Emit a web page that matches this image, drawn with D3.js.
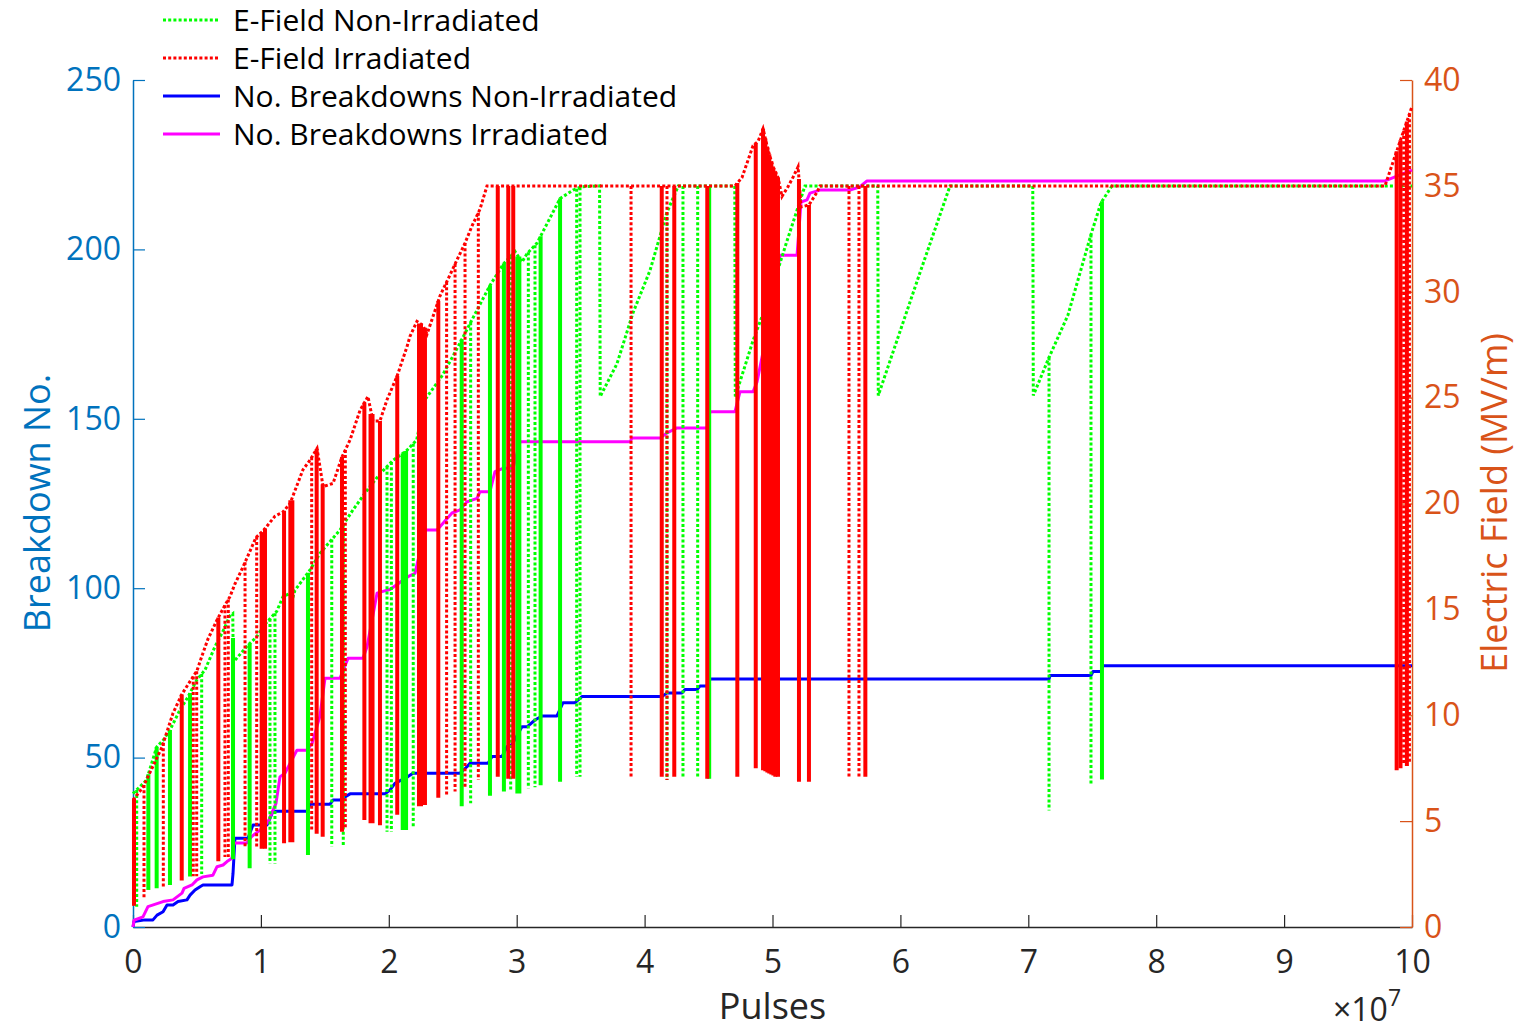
<!DOCTYPE html>
<html><head><meta charset="utf-8">
<script src="https://cdn.jsdelivr.net/npm/d3@7"></script>
<style>
body{margin:0;background:#fff}
svg{display:block}
text{font-family:'Open Sans',sans-serif}
</style>
</head><body>
<svg id="chart" width="1537" height="1030"></svg>
<script>
// ---------- data (pulses in units of 1e7) ----------
const xTicks = [0,1,2,3,4,5,6,7,8,9,10];
const leftTicks = [0,50,100,150,200,250];
const rightTicks = [0,5,10,15,20,25,30,35,40];
const legendLabels = ["E-Field Non-Irradiated","E-Field Irradiated","No. Breakdowns Non-Irradiated","No. Breakdowns Irradiated"];

// E-field envelope [pulses, MV/m]
const eFieldNonIrr = [[0,6.3],[0.106,6.94],[0.185,8.5],[0.237,8.83],[0.289,9.3],[0.367,10.25],[0.433,10.9],[0.498,11.66],[0.563,12.14],[0.641,13.24],[0.706,14.0],[0.758,14.7],[0.780,14.8],[0.784,12.5],[0.888,13.24],[0.966,13.7],[1.032,14.3],[1.123,14.9],[1.173,15.6],[1.228,15.75],[1.243,15.4],[1.266,15.9],[1.384,16.86],[1.462,17.65],[1.618,18.75],[1.720,19.7],[1.827,20.6],[1.931,21.4],[2.035,22.05],[2.140,22.5],[2.218,23.0],[2.283,24.9],[2.424,26.1],[2.541,27.4],[2.635,28.5],[2.791,30.3],[2.895,31.3],[2.987,31.9],[3.041,31.4],[3.081,31.8],[3.159,32.3],[3.339,34.4],[3.440,34.8],[3.508,34.96],[3.648,35.0],[3.653,25.05],[3.784,26.6],[3.909,29.0],[4.042,31.0],[4.172,33.7],[4.263,35.0],[4.705,35.0],[4.709,25.05],[4.848,27.7],[4.978,29.8],[5.108,32.3],[5.254,35.0],[5.823,35.0],[5.827,25.1],[6.153,30.9],[6.388,35.0],[7.035,35.0],[7.039,25.1],[7.162,26.9],[7.310,28.9],[7.490,32.7],[7.568,34.2],[7.654,35.0],[10,35.0]];
const eFieldIrr = [[0,6.0],[0.078,6.6],[0.133,7.3],[0.227,8.5],[0.313,10.1],[0.383,11.0],[0.446,11.6],[0.500,12.1],[0.539,12.8],[0.586,13.6],[0.657,14.5],[0.719,15.2],[0.758,15.6],[0.797,16.2],[0.860,17.0],[0.962,18.4],[1.016,18.7],[1.110,19.4],[1.173,19.6],[1.228,20.0],[1.329,21.6],[1.384,22.05],[1.439,22.6],[1.486,20.8],[1.564,20.95],[1.634,22.2],[1.697,23.0],[1.775,24.4],[1.837,25.05],[1.876,23.9],[1.931,23.9],[1.986,24.9],[2.064,26.0],[2.142,27.4],[2.166,27.9],[2.220,28.6],[2.267,28.4],[2.299,28.0],[2.400,29.8],[2.463,30.6],[2.533,31.5],[2.596,32.3],[2.650,33.1],[2.713,33.9],[2.768,35.0],[4.707,35.0],[4.762,35.4],[4.848,36.9],[4.887,37.1],[4.926,37.7],[4.965,36.7],[5.004,35.9],[5.043,35.4],[5.074,34.5],[5.121,34.96],[5.160,35.4],[5.200,35.9],[5.223,34.0],[5.285,34.1],[5.348,34.7],[5.371,35.0],[9.789,35.0],[9.867,36.4],[10,38.75]];

// breakdown drops [pulses, field reached after drop (MV/m), number of overlapping traces]
const dropsNonIrr = [[0.029,0.96,1],[0.120,1.75,2],[0.185,1.83,2],[0.289,1.98,2],[0.446,2.38,2],[0.537,2.5,1],[0.782,3.2,2],[0.912,2.77,2],[1.071,3.0,1],[1.110,3.0,1],[1.368,3.4,2],[1.554,3.8,1],[1.644,3.87,1],[1.986,4.5,1],[2.020,4.5,1],[2.109,4.58,2],[2.135,4.58,2],[2.191,4.66,1],[2.570,5.7,2],[2.640,5.84,1],[2.791,6.2,2],[2.900,6.4,2],[2.953,6.45,1],[3.013,6.3,3],[3.091,6.55,1],[3.143,6.6,1],[3.187,6.7,2],[3.339,6.86,2],[3.469,7.1,1],[3.495,7.1,1],[4.175,6.94,1],[4.300,7.1,1],[4.415,7.1,1],[4.505,7.0,2],[7.162,5.5,1],[7.490,6.75,1],[7.576,6.97,2]];
const dropsIrr = [[0.008,1.0,2],[0.086,1.4,1],[0.237,1.9,1],[0.381,2.2,2],[0.471,2.4,1],[0.498,2.4,1],[0.667,3.1,2],[0.719,3.3,1],[0.745,3.3,1],[0.876,3.8,1],[0.967,3.7,1],[1.006,3.7,2],[1.032,3.7,2],[1.181,3.95,2],[1.238,4.0,3],[1.397,4.5,1],[1.436,4.4,2],[1.483,4.26,2],[1.634,4.5,2],[1.660,4.66,1],[1.809,5.05,2],[1.865,4.9,3],[1.931,4.8,2],[2.066,5.3,2],[2.244,5.7,3],[2.275,5.76,3],[2.387,6.1,2],[2.452,6.25,1],[2.518,6.4,1],[2.596,6.6,1],[2.700,6.94,1],[2.852,7.1,2],[2.934,7.0,2],[2.973,7.0,2],[3.894,7.1,1],[4.134,7.1,2],[4.175,6.94,1],[4.232,7.1,2],[4.490,7.0,2],[4.725,7.1,2],[4.869,7.5,2],[4.926,7.4,2],[4.944,7.35,2],[4.960,7.3,2],[4.975,7.25,2],[4.991,7.2,2],[5.007,7.15,2],[5.022,7.1,2],[5.043,7.1,2],[5.207,6.86,2],[5.285,6.86,2],[5.598,7.1,1],[5.676,7.1,1],[5.726,7.1,2],[9.880,7.4,2],[9.910,7.5,2],[9.935,7.7,1],[9.960,7.6,2],[9.980,7.7,1]];

// cumulative breakdowns [pulses, count]
const breakdownsNonIrr = [[0,0],[0.008,1.6],[0.094,2.1],[0.156,2.1],[0.188,3.5],[0.235,4.5],[0.266,6.5],[0.313,6.5],[0.352,7.5],[0.422,8.0],[0.446,9.4],[0.485,10.9],[0.524,11.9],[0.547,12.4],[0.774,12.4],[0.782,15.8],[0.797,26.2],[0.899,26.2],[0.938,30.1],[1.048,30.1],[1.095,34.2],[1.360,34.2],[1.384,36.2],[1.540,36.2],[1.564,37.5],[1.618,37.5],[1.697,39.3],[1.970,39.3],[2.009,40.4],[2.048,42.4],[2.150,44.4],[2.189,45.4],[2.557,45.4],[2.611,47.3],[2.635,48.3],[2.776,48.3],[2.807,50.3],[2.885,50.3],[2.924,53.2],[2.963,53.8],[3.041,59.1],[3.081,59.1],[3.143,61.1],[3.198,62.3],[3.315,62.3],[3.362,66.2],[3.456,66.2],[3.510,68.0],[4.136,68.0],[4.175,69.1],[4.292,69.1],[4.316,70.1],[4.410,70.1],[4.433,71.1],[4.496,71.1],[4.511,73.2],[7.162,73.2],[7.170,74.2],[7.490,74.2],[7.506,75.4],[7.568,75.4],[7.584,77.1],[10,77.1]];
const breakdownsIrr = [[0,0],[0.008,2.0],[0.078,3.0],[0.117,6.0],[0.235,7.5],[0.313,8.0],[0.383,10.0],[0.399,11.4],[0.461,12.4],[0.500,13.9],[0.547,14.8],[0.625,15.3],[0.657,17.8],[0.704,18.3],[0.735,19.3],[0.774,20.3],[0.790,24.8],[0.891,24.8],[0.930,26.8],[0.993,28.6],[1.056,31.0],[1.118,36.5],[1.149,44.3],[1.188,45.4],[1.282,52.2],[1.360,52.2],[1.400,54.2],[1.462,62.3],[1.501,73.4],[1.618,73.4],[1.681,79.3],[1.798,79.3],[1.830,82.7],[1.908,98.5],[1.947,99.0],[2.009,99.6],[2.150,103.4],[2.205,104.4],[2.283,117.2],[2.377,117.2],[2.424,119.2],[2.494,122.2],[2.557,123.1],[2.611,125.5],[2.690,126.5],[2.713,128.5],[2.791,128.5],[2.830,134.4],[2.893,135.4],[2.971,135.4],[3.026,143.2],[3.886,143.2],[3.901,144.3],[4.120,144.3],[4.175,145.8],[4.253,147.3],[4.488,147.3],[4.511,152.1],[4.707,152.1],[4.746,158.0],[4.848,158.0],[4.879,160.9],[4.941,172.4],[5.059,198.3],[5.192,198.3],[5.223,214.0],[5.270,214.6],[5.293,216.6],[5.371,217.5],[5.606,217.5],[5.684,218.5],[5.739,220.2],[9.789,220.2],[10,223.4]];

// ---------- drawing ----------
const svg = d3.select("#chart");
const L = 133, R = 1412, T = 80, B = 927;
const x = d3.scaleLinear([0,10],[L,R]);
const yL = d3.scaleLinear([0,250],[B,T]);
const yR = d3.scaleLinear([0,40],[B,T]);
const cLeft = "#0072BD", cRight = "#D95319", cX = "#262626";
const GREEN = "#00FF00", RED = "#FF0000", BLUE = "#0000FF", MAG = "#FF00FF";
const DOT = "3,2.2";
const DOTW = 3;

// axes
const gx = svg.append("g").attr("transform",`translate(0,${B})`)
  .call(d3.axisBottom(x).tickValues(xTicks).tickFormat(d3.format("d")).tickSize(-12).tickSizeOuter(0).tickPadding(23));
gx.select(".domain").attr("stroke",cX).attr("stroke-width",1.5);
gx.selectAll(".tick line").attr("stroke",cX).attr("stroke-width",1.2);
gx.selectAll(".tick text").attr("fill",cX).style("font-size","32px").attr("font-family",null);

const gl = svg.append("g").attr("transform",`translate(${L},0)`)
  .call(d3.axisLeft(yL).tickValues(leftTicks).tickSize(-12).tickSizeOuter(0).tickPadding(12));
gl.select(".domain").attr("stroke",cLeft).attr("stroke-width",1.5);
gl.selectAll(".tick line").attr("stroke",cLeft).attr("stroke-width",1.2);
gl.selectAll(".tick text").attr("fill",cLeft).style("font-size","32px").attr("font-family",null);

const gr = svg.append("g").attr("transform",`translate(${R},0)`)
  .call(d3.axisRight(yR).tickValues(rightTicks).tickSize(-12).tickSizeOuter(0).tickPadding(12));
gr.select(".domain").attr("stroke",cRight).attr("stroke-width",1.5);
gr.selectAll(".tick line").attr("stroke",cRight).attr("stroke-width",1.2);
gr.selectAll(".tick text").attr("fill",cRight).style("font-size","32px").attr("font-family",null);

// axis labels
svg.append("text").attr("x",(L+R)/2).attr("y",1019).attr("text-anchor","middle")
  .attr("fill",cX).style("font-size","36px").text("Pulses");
svg.append("text").attr("transform","translate(50,503) rotate(-90)").attr("text-anchor","middle")
  .attr("fill",cLeft).style("font-size","36px").text("Breakdown No.");
svg.append("text").attr("transform","translate(1507,503) rotate(-90)").attr("text-anchor","middle")
  .attr("fill",cRight).style("font-size","36px").text("Electric Field (MV/m)");
const ex = svg.append("text").attr("x",1333).attr("y",1021).attr("fill",cX).style("font-size","32px");
ex.append("tspan").text("\u00D710");
ex.append("tspan").attr("dy",-15).style("font-size","23px").text("7");

// series
const lineL = d3.line().x(d=>x(d[0])).y(d=>yL(d[1]));
const lineR = d3.line().x(d=>x(d[0])).y(d=>yR(d[1]));

function stepSeries(data,color){
  svg.append("path").datum(data).attr("d",lineL).attr("fill","none")
    .attr("stroke",color).attr("stroke-width",3).attr("stroke-linejoin","round");
}
stepSeries(breakdownsNonIrr, BLUE);
stepSeries(breakdownsIrr, MAG);

const bis = d3.bisector(d=>d[0]).left;
function envAt(env,v){
  const i = Math.max(1, Math.min(env.length-1, bis(env,v)));
  const a = env[i-1], b = env[i];
  const t = (v-a[0])/(b[0]-a[0]);
  return a[1] + t*(b[1]-a[1]);
}
function fieldSeries(env,drops,color){
  const g = svg.append("g");
  g.append("path").datum(env).attr("d",lineR).attr("fill","none")
    .attr("stroke",color).attr("stroke-width",DOTW).attr("stroke-dasharray",DOT);
  g.selectAll("line").data(drops).join("line")
    .attr("x1",d=>x(d[0])).attr("x2",d=>x(d[0]))
    .attr("y1",d=>yR(envAt(env,d[0]))).attr("y2",d=>yR(d[1]))
    .attr("stroke",color)
    .attr("stroke-width",d=>d[2]>=3?6:(d[2]===2?4:DOTW))
    .attr("stroke-dasharray",d=>d[2]>=2?null:DOT);
}
fieldSeries(eFieldNonIrr, dropsNonIrr, GREEN);
fieldSeries(eFieldIrr, dropsIrr, RED);

// legend
const legColors = [GREEN, RED, BLUE, MAG];
const legDash = [DOT, DOT, null, null];
const leg = svg.append("g");
legendLabels.forEach((lab,i)=>{
  const yy = 20 + i*38;
  leg.append("line").attr("x1",163).attr("x2",220).attr("y1",yy).attr("y2",yy)
    .attr("stroke",legColors[i]).attr("stroke-width",3).attr("stroke-dasharray",legDash[i]);
  leg.append("text").attr("x",233).attr("y",yy).attr("dy","0.35em").attr("fill","#000")
    .style("font-size","30px").text(lab);
});
</script>
</body></html>
